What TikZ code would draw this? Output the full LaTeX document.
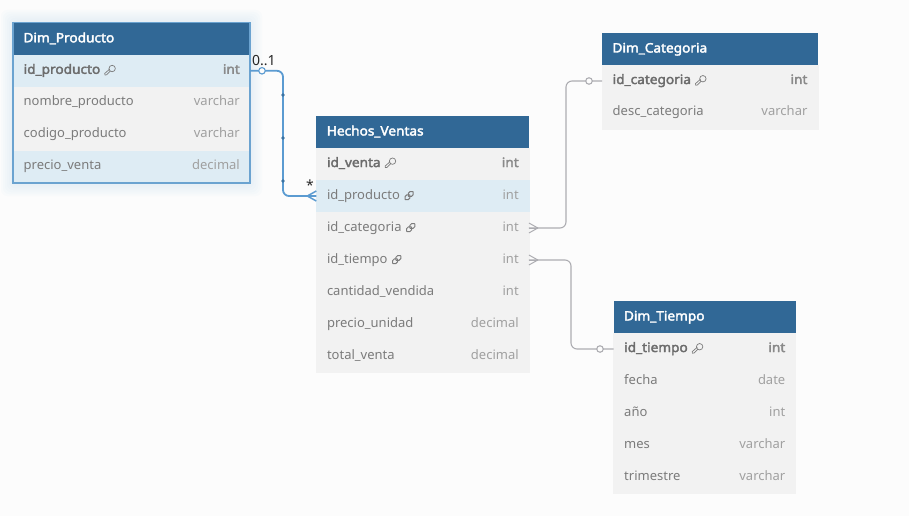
\documentclass[tikz,border=0pt]{standalone}
\usepackage{fontspec}
\setmainfont{Noto Sans}[BoldFont = {Noto Sans}, BoldFeatures = {FakeBold = 2.6, FakeStretch = 1.05}]
\usepackage{xcolor}
\usetikzlibrary{arrows.meta, positioning}
\definecolor{fondo}{HTML}{FCFCFC}
\definecolor{azulcab}{HTML}{316896}
\definecolor{azulfila}{HTML}{DEECF4}
\definecolor{grisfila}{HTML}{F2F2F2}
\definecolor{azulrel}{HTML}{5B9BD1}
\definecolor{azulborde}{HTML}{6BA3D0}
\definecolor{grisrel}{HTML}{ADADB2}
\definecolor{gristexto}{HTML}{7B7B7B}
\definecolor{grisfuerte}{HTML}{6C6C6C}
\definecolor{gristipo}{HTML}{A0A0A0}
\definecolor{tipofuerte}{HTML}{8A8A8A}
\tikzset{
    cabecera/.style = {fill = azulcab, text = white, font = \fontsize{13}{15}\selectfont\bfseries, inner sep = 0pt, outer sep = 0pt, minimum height = 32pt, text height = 10pt, text depth = 3pt, align = left},
    fila/.style = {fill = grisfila, draw = grisfila, line width = 0.2pt, inner sep = 0pt, outer sep = 0pt, minimum height = 32pt},
    filaazul/.style = {fila, fill = azulfila, draw = azulfila},
    campo/.style = {text = gristexto, font = \fontsize{13}{15}\selectfont, inner sep = 0pt, anchor = base west},
    campofuerte/.style = {campo, text = grisfuerte, font = \fontsize{13}{15}\selectfont\bfseries},
    tipo/.style = {text = gristipo, font = \fontsize{13}{15}\selectfont, inner sep = 0pt, anchor = base east},
    tipofuerte/.style = {tipo, text = tipofuerte, font = \fontsize{13}{15}\selectfont\bfseries},
    relgris/.style = {draw = grisrel, line width = 1.1pt, rounded corners = 6pt},
    relazul/.style = {draw = azulrel, line width = 1.8pt, rounded corners = 6pt},
    aro/.style = {circle, draw = #1, fill = fondo, line width = 1.1pt, inner sep = 0pt, minimum size = 6.5pt},
    punto/.style = {circle, fill = azulcab!80!azulrel, inner sep = 0pt, minimum size = 3.6pt},
    etiqueta/.style = {text = black!85, font = \fontsize{14}{16}\selectfont, inner sep = 0pt},
    llave/.pic = {
        \draw[gristexto, line width = 0.7pt] (2.2,-1.9) circle (3.2);
        \draw[gristexto, line width = 0.7pt, line join = round] (0.4,0.6) -- (-3.4,4.4) -- (-5,4.6) -- (-5.2,3) -- (-0.3,-1.3);
    },
    enlace/.pic = {
        \draw[gristexto, line width = 1pt, rotate = 45, rounded corners = 1.8pt] (-0.8,-2.2) rectangle (5.4,2.2);
        \draw[gristexto, line width = 1pt, rotate = 45, rounded corners = 1.8pt] (-5.4,-2.2) rectangle (0.8,2.2);
    }
}
% tabla: nombre, titulo, ancho, esquina, filas
\newcommand{\tabla}[5]{
    \node[cabecera, minimum width = #3pt, anchor = north west, text width = {#3pt-21pt}, inner xsep = 10.5pt] (#1) at (#4) {#2};
    \foreach \n/\texto/\clase/\peso/\fondofila in {#5}{
        \pgfmathtruncatemacro{\previo}{\n-1}
        \ifnum\n=1
            \node[\fondofila, minimum width = #3pt, below = 0pt of #1] (#1\n) {};
        \else
            \node[\fondofila, minimum width = #3pt, below = 0pt of #1\previo] (#1\n) {};
        \fi
        \node[campo\peso] (#1\n c) at ([xshift = 10.5pt, yshift = -3pt]#1\n.west) {\texto};
        \node[tipo\peso] (#1\n t) at ([xshift = -10pt, yshift = -3pt]#1\n.east) {\clase};
    }
}
\begin{document}
\begin{tikzpicture}[x = 1pt, y = -1pt]
    \useasboundingbox[fill = fondo] (0,0) rectangle (909,516);
    % Sombra
    \foreach \r in {12,10,8,6,4,2}{
        \fill[azulrel, opacity = 0.018, rounded corners = 6pt] ({13-\r},{22-\r}) rectangle ({250+\r},{184+\r});
    }
    % Tablas
    \tabla{dp}{Dim\_Producto}{237}{13,22.8}{1/id\_producto/int/fuerte/filaazul, 2/nombre\_producto/varchar//fila, 3/codigo\_producto/varchar//fila, 4/precio\_venta/decimal//filaazul}
    \tabla{hv}{Hechos\_Ventas}{212.6}{316.3,116}{1/id\_venta/int/fuerte/fila, 2/id\_producto/int//filaazul, 3/id\_categoria/int//fila, 4/id\_tiempo/int//fila, 5/cantidad\_vendida/int//fila, 6/precio\_unidad/decimal//fila, 7/total\_venta/decimal//fila}
    \tabla{dc}{Dim\_Categoria}{215.6}{602,33}{1/id\_categoria/int/fuerte/fila, 2/desc\_categoria/varchar//fila}
    \tabla{dt}{Dim\_Tiempo}{182}{613.5,301}{1/id\_tiempo/int/fuerte/fila, 2/fecha/date//fila, 3/año/int//fila, 4/mes/varchar//fila, 5/trimestre/varchar//fila}
    \draw[azulborde, line width = 1.4pt] (dp.north west) rectangle (dp4.south east);
    % Iconos
    \pic at ([xshift = 9.5pt]dp1c.east) {llave};
    \pic at ([xshift = 9.5pt]hv1c.east) {llave};
    \pic at ([xshift = 9.5pt]dc1c.east) {llave};
    \pic at ([xshift = 9.5pt]dt1c.east) {llave};
    \pic at ([xshift = 9pt]hv2c.east) {enlace};
    \pic at ([xshift = 9pt]hv3c.east) {enlace};
    \pic at ([xshift = 9pt]hv4c.east) {enlace};
    % Relaciones
    \coordinate (giroa) at (283,100);
    \coordinate (girob) at (566,100);
    \coordinate (giroc) at (571,300);
    \draw[relazul] (dp1.east) -| (giroa) |- (hv2.west);
    \draw[relgris] (hv3.east) -| (girob) |- (dc1.west);
    \draw[relgris] (hv4.east) -| (giroc) |- (dt1.west);
    % Patas
    \foreach \d in {-5,0,5}{
        \draw[azulrel, line width = 1.5pt] ([xshift = -9pt]hv2.west) -- ([yshift = -\d pt]hv2.west);
        \draw[grisrel, line width = 1pt] ([xshift = 9pt]hv3.east) -- ([yshift = -\d pt]hv3.east);
        \draw[grisrel, line width = 1pt] ([xshift = 9pt]hv4.east) -- ([yshift = -\d pt]hv4.east);
    }
    % Marcas
    \node[aro = azulrel] (aroa) at ([xshift = 12pt]dp1.east) {};
    \node[aro = grisrel] (arob) at ([xshift = -13pt]dc1.west) {};
    \node[aro = grisrel] (aroc) at ([xshift = -13.5pt]dt1.west) {};
    \node[punto] (puntoa) at (283,95) {};
    \node[punto] (puntob) at (283,138) {};
    \node[punto] (puntoc) at (283,181) {};
    \node[etiqueta, anchor = base west] (cardinal) at (252,66) {0..1};
    \node[etiqueta, anchor = base west] (muchos) at (306,190) {*};
\end{tikzpicture}
\end{document}
